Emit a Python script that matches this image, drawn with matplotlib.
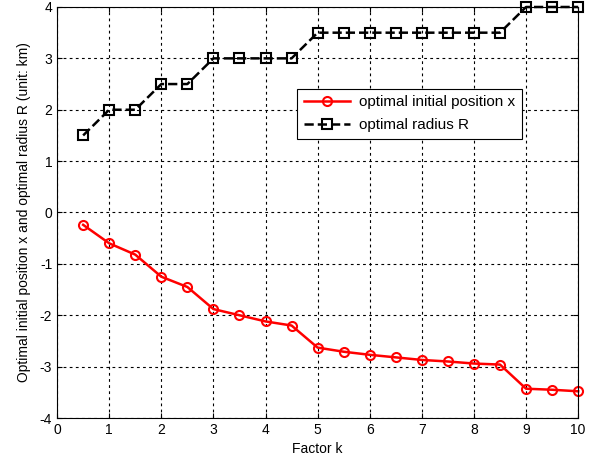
import matplotlib
matplotlib.use('Agg')
import matplotlib.pyplot as plt

plt.rcParams['font.family'] = ['Liberation Sans', 'DejaVu Sans']
plt.rcParams['axes.unicode_minus'] = False

# 数据
k = [0.5, 1, 1.5, 2, 2.5, 3, 3.5, 4, 4.5, 5, 5.5, 6, 6.5, 7, 7.5, 8, 8.5, 9, 9.5, 10]
x_opt = [-0.24, -0.60, -0.82, -1.25, -1.45, -1.88, -2.00, -2.12, -2.20, -2.63,
         -2.71, -2.77, -2.82, -2.87, -2.90, -2.94, -2.96, -3.43, -3.45, -3.48]
r_opt = [1.5, 2, 2, 2.5, 2.5, 3, 3, 3, 3, 3.5,
         3.5, 3.5, 3.5, 3.5, 3.5, 3.5, 3.5, 4, 4, 4]

fig = plt.figure(figsize=(6.01, 4.66), dpi=100)
ax = fig.add_axes([0.095, 0.103, 0.867, 0.882])

ax.plot(k, x_opt, color='red', linestyle='-', linewidth=1.8, marker='o',
        markersize=6.5, markerfacecolor='none', markeredgewidth=1.5,
        label='optimal initial position x', clip_on=False)
ax.plot(k, r_opt, color='black', linestyle='--', linewidth=1.8, marker='s',
        markersize=6.5, markerfacecolor='none', markeredgewidth=1.5,
        label='optimal radius R', clip_on=False)

ax.set_xlim(0, 10)
ax.set_ylim(-4, 4)
ax.set_xticks(range(0, 11))
ax.set_yticks(range(-4, 5))
ax.grid(True, color='black', linestyle=(0, (2.5, 3)), linewidth=0.8)
ax.tick_params(direction='in', top=True, right=True, labelsize=10)
for s in ax.spines.values():
    s.set_linewidth(0.8)

ax.set_xlabel('Factor k', fontsize=10, labelpad=4)
ax.set_ylabel('Optimal initial position x and optimal radius R (unit: km)', fontsize=10, labelpad=6)

leg = ax.legend(loc='upper left', bbox_to_anchor=(0.4455, 0.82), fontsize=11,
                fancybox=False, edgecolor='black', framealpha=1,
                handlelength=3, borderpad=0.45, labelspacing=0.55, handletextpad=0.6)
leg.get_frame().set_linewidth(0.8)

plt.savefig('out.png', dpi=100)
